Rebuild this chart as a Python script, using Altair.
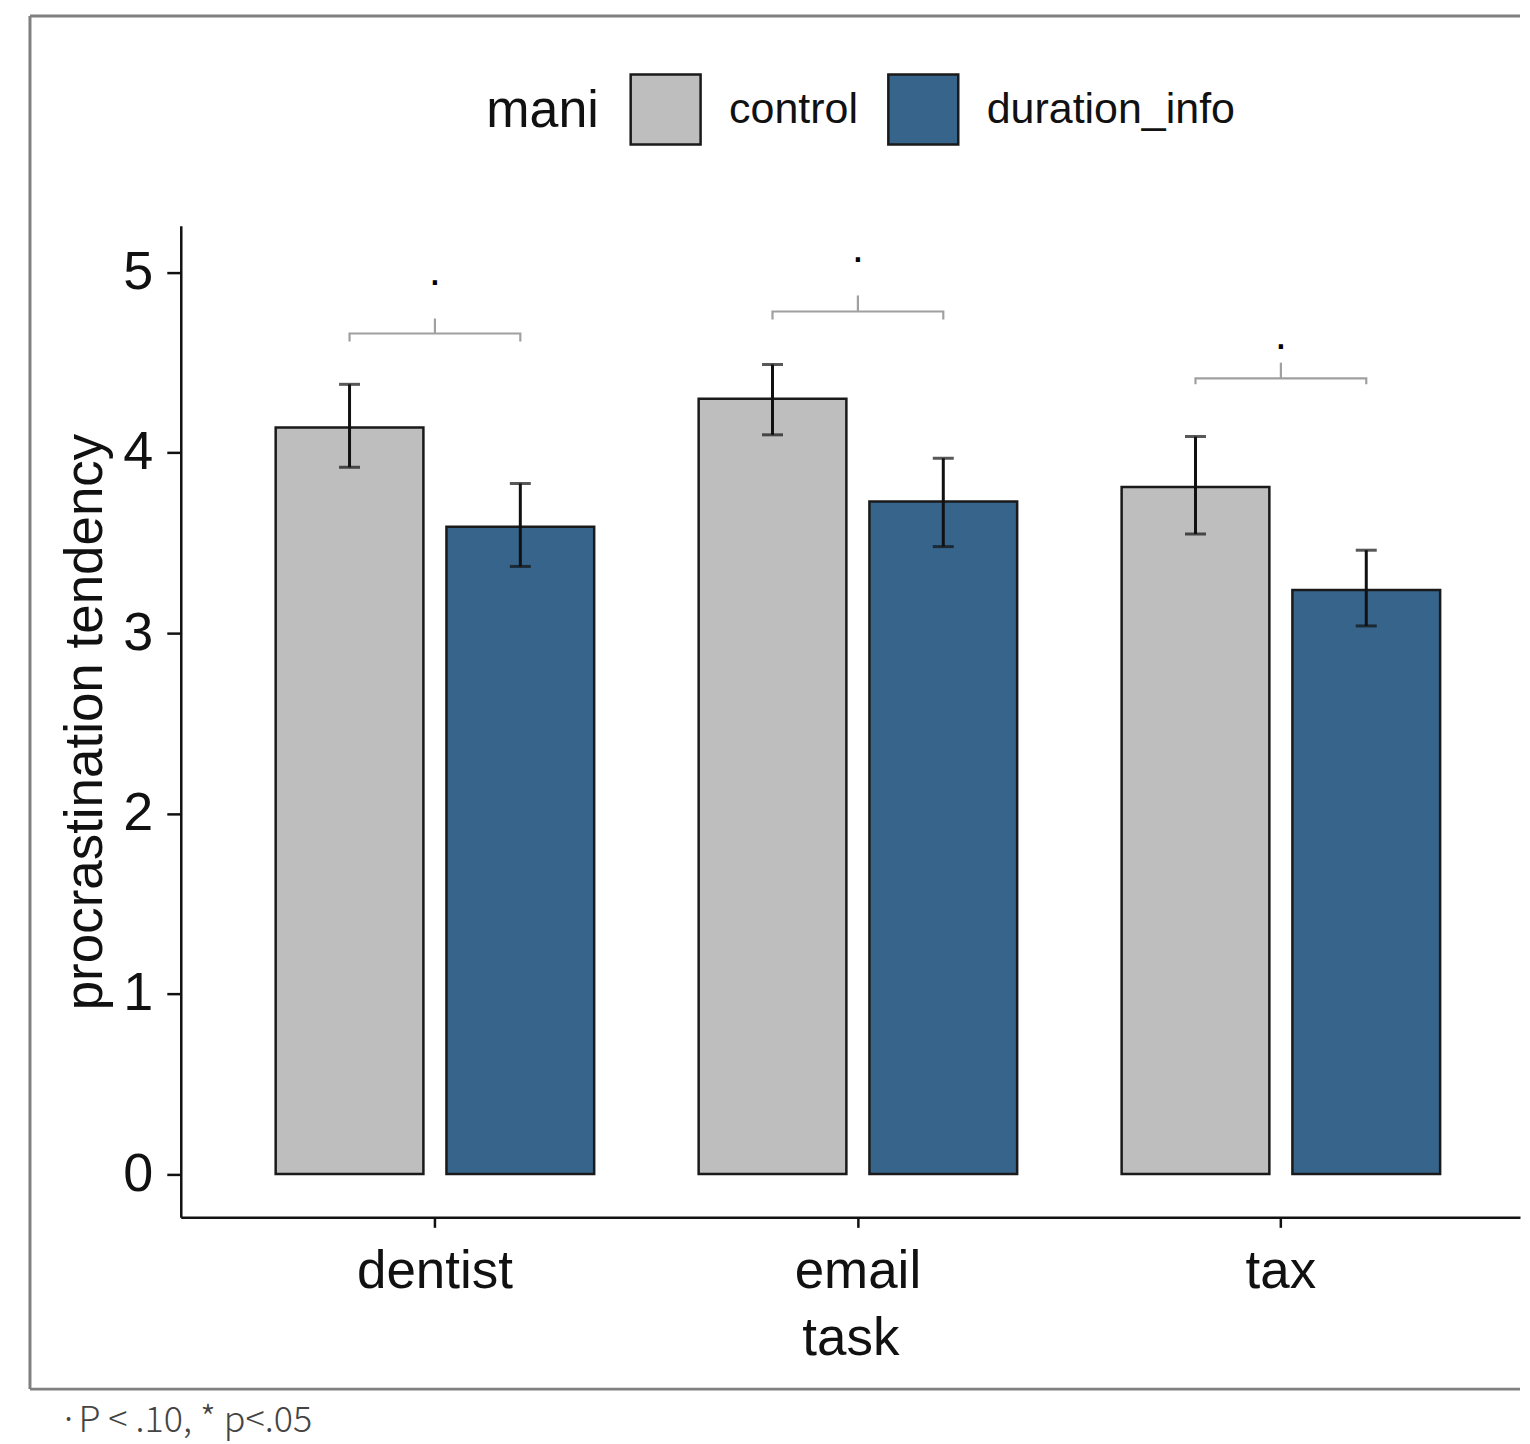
import altair as alt
import pandas as pd

tasks = ["dentist", "email", "tax"]
groups = ["control", "duration_info"]
mean_control = [4.14, 4.30, 3.81]
mean_duration = [3.59, 3.73, 3.24]
lo_control = [3.92, 4.10, 3.55]
hi_control = [4.38, 4.49, 4.09]
lo_duration = [3.37, 3.48, 3.04]
hi_duration = [3.83, 3.97, 3.46]
bracket_y = [4.662, 4.784, 4.413]
bracket_tip = [4.618, 4.740, 4.380]
bracket_top = [4.745, 4.873, 4.500]
sig_y = [4.93, 5.06, 4.575]
sig_label = [".", ".", "."]
y_ticks = [0, 1, 2, 3, 4, 5]
footnote = "·P < .10, * p<.05"

W, H = 1341, 993
SANS = "'Liberation Sans', Arial, sans-serif"

rows = []
for i, t in enumerate(tasks):
    rows.append(dict(task=t, mani="control", mean=mean_control[i], lo=lo_control[i], hi=hi_control[i]))
    rows.append(dict(task=t, mani="duration_info", mean=mean_duration[i], lo=lo_duration[i], hi=hi_duration[i]))
bars_df = pd.DataFrame(rows)

br_rows = []
for i, t in enumerate(tasks):
    br_rows.append(dict(task=t, mani="control", y=bracket_tip[i], ord=0))
    br_rows.append(dict(task=t, mani="control", y=bracket_y[i], ord=1))
    br_rows.append(dict(task=t, mani="duration_info", y=bracket_y[i], ord=2))
    br_rows.append(dict(task=t, mani="duration_info", y=bracket_tip[i], ord=3))
br_df = pd.DataFrame(br_rows)

sig_df = pd.DataFrame(dict(task=tasks, h=bracket_y, top=bracket_top, sy=sig_y, lab=sig_label))
one = pd.DataFrame({"k": [0]})

xscale = alt.Scale(domain=tasks, paddingInner=0.247, paddingOuter=0.2066, align=0.543)
xoff = alt.XOffset("mani:N", scale=alt.Scale(domain=groups, paddingInner=0.135, paddingOuter=0))
yscale = alt.Scale(domain=[-0.24, 5.26], nice=False, zero=False)

X = alt.X("task:N", scale=xscale, sort=tasks,
          axis=alt.Axis(title="task", labelAngle=0, labelFont=SANS, labelFontSize=53,
                        labelColor="#111", labelPadding=18, tickSize=10, tickWidth=2.5,
                        tickColor="#111", domainColor="#111", domainWidth=2.5,
                        titleFont=SANS, titleFontSize=53, titleFontWeight="normal",
                        titleColor="#111", titleBaseline="alphabetic", titleY=137))
Y = alt.Y("mean:Q", scale=yscale,
          axis=alt.Axis(title="procrastination tendency", values=y_ticks, format="d", grid=False,
                        labelFont=SANS, labelFontSize=54, labelColor="#111", labelPadding=14,
                        tickSize=14, tickWidth=2.5, tickColor="#111", domainColor="#111",
                        domainWidth=2.5, titleFont=SANS, titleFontSize=53,
                        titleFontWeight="normal", titleColor="#111", titleX=-68, titleY=H / 2))

color = alt.Color("mani:N", scale=alt.Scale(domain=groups, range=["#bebebe", "#36648b"]),
                  legend=alt.Legend(title="mani", orient="none", legendX=306, legendY=-153,
                                    direction="horizontal", titleOrient="left",
                                    titleFont=SANS, titleFontSize=52, titleFontWeight="normal",
                                    titleColor="#111", titleAnchor="middle", titleBaseline="middle",
                                    titlePadding=30, labelFont=SANS, labelFontSize=43,
                                    labelColor="#111", labelOffset=27, columnPadding=24,
                                    labelLimit=600,
                                    symbolType="square", symbolSize=4900,
                                    symbolStrokeColor="#1a1a1a", symbolStrokeWidth=2.5,
                                    symbolOpacity=1, padding=0))

bars = alt.Chart(bars_df).mark_bar(stroke="#1a1a1a", strokeWidth=2.5, opacity=1).encode(
    x=X, xOffset=xoff, y=Y, color=color)

err = alt.Chart(bars_df).mark_rule(color="#111", strokeWidth=3).encode(
    x=alt.X("task:N", scale=xscale, sort=tasks), xOffset=xoff,
    y=alt.Y("lo:Q", scale=yscale), y2="hi:Q")
cap_lo = alt.Chart(bars_df).mark_tick(color="#111", thickness=3, size=21, orient="horizontal").encode(
    x=alt.X("task:N", scale=xscale, sort=tasks), xOffset=xoff, y=alt.Y("lo:Q", scale=yscale))
cap_hi = alt.Chart(bars_df).mark_tick(color="#111", thickness=3, size=21, orient="horizontal").encode(
    x=alt.X("task:N", scale=xscale, sort=tasks), xOffset=xoff, y=alt.Y("hi:Q", scale=yscale))

brackets = alt.Chart(br_df).mark_line(color="#a0a0a0", strokeWidth=2.2).encode(
    x=alt.X("task:N", scale=xscale, sort=tasks), xOffset=xoff,
    y=alt.Y("y:Q", scale=yscale), detail="task:N", order="ord:Q")
center_tick = alt.Chart(sig_df).mark_rule(color="#a0a0a0", strokeWidth=2.2).encode(
    x=alt.X("task:N", scale=xscale, sort=tasks), y=alt.Y("h:Q", scale=yscale), y2="top:Q")
sig = alt.Chart(sig_df).mark_text(color="#000", fontSize=44, font=SANS, baseline="alphabetic").encode(
    x=alt.X("task:N", scale=xscale, sort=tasks), y=alt.Y("sy:Q", scale=yscale), text="lab:N")

BL, BT, BB = -151, -210, H + 172
border_left = alt.Chart(one).mark_rule(color="#808080", strokeWidth=3).encode(
    x=alt.value(BL), y=alt.value(BT), y2=alt.value(BB))
border_top = alt.Chart(one).mark_rule(color="#808080", strokeWidth=3).encode(
    x=alt.value(BL), x2=alt.value(W), y=alt.value(BT))
border_bottom = alt.Chart(one).mark_rule(color="#808080", strokeWidth=3).encode(
    x=alt.value(BL), x2=alt.value(W), y=alt.value(BB))
note = alt.Chart(pd.DataFrame({"t": [footnote]})).mark_text(
    align="left", baseline="middle", fontSize=36, font="'Noto Sans CJK KR', 'Noto Sans', sans-serif",
    fontWeight=300, color="#444").encode(x=alt.value(-122), y=alt.value(H + 204), text="t:N")

chart = alt.layer(bars, err, cap_lo, cap_hi, brackets, center_tick, sig,
                  border_left, border_top, border_bottom, note).properties(
    width=W, height=H, background="white",
    padding={"left": 20, "top": 5, "right": 0, "bottom": 4}
).configure_view(stroke=None, strokeWidth=0)

chart.save("out.html", embed_options={"renderer": "svg", "actions": False})
